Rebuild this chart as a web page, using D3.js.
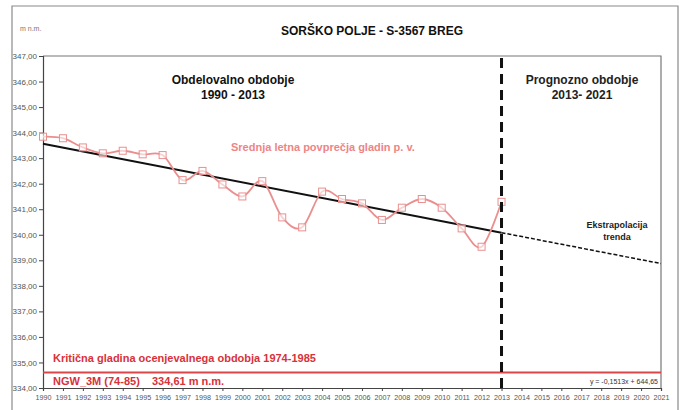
<!DOCTYPE html>
<html><head><meta charset="utf-8">
<script src="https://cdn.jsdelivr.net/npm/d3@7"></script>
<style>body{margin:0;background:#fff}svg{display:block}text{font-family:Arial,"Liberation Sans",sans-serif}</style>
</head><body>
<svg id="c" width="687" height="410"></svg>
<script>
const years = [1990,1991,1992,1993,1994,1995,1996,1997,1998,1999,2000,2001,2002,2003,2004,2005,2006,2007,2008,2009,2010,2011,2012,2013];
const levels = [343.84,343.78,343.42,343.19,343.29,343.15,343.12,342.14,342.50,341.97,341.50,342.10,340.68,340.29,341.69,341.40,341.23,340.58,341.06,341.40,341.06,340.25,339.53,341.29];
const xTicks = d3.range(1990, 2022);
const yTicks = [334,335,336,337,338,339,340,341,342,343,344,345,346,347];
const trendSlope = -0.1513, trendIntercept = 644.65;
const criticalLevel = 334.61;
const forecastStart = 2013, forecastEnd = 2021;

const svg = d3.select("#c");
const L = 43, R = 661, T = 56, B = 388;
const x = d3.scaleLinear().domain([1990, 2021]).range([L, R]);
const y = d3.scaleLinear().domain([334, 347]).range([B, T]);
const fmt = v => d3.format(".2f")(v).replace(".", ",");

// outer frame
svg.append("path").attr("d", "M12,420 V6 H678 V420").attr("fill","none").attr("stroke","#8a8a8a").attr("stroke-width",1.2);

// title
svg.append("text").attr("x", 372).attr("y", 35).attr("text-anchor","middle")
  .attr("font-size", 12).attr("font-weight","bold").attr("fill","#111").text("SORŠKO POLJE - S-3567 BREG");
svg.append("text").attr("x", 20).attr("y", 31).attr("font-size", 7).attr("fill","#777").text("m n.m.");

// plot border (top & right)
svg.append("path").attr("d", `M${L},${T} H${R} V${B}`).attr("fill","none").attr("stroke","#777").attr("stroke-width",1.2);

// axes
const yAxis = svg.append("g").attr("transform", `translate(${L},0)`)
  .call(d3.axisLeft(y).tickValues(yTicks).tickFormat(fmt).tickSize(4).tickPadding(2));
const xAxis = svg.append("g").attr("transform", `translate(0,${B})`)
  .call(d3.axisBottom(x).tickValues(xTicks).tickFormat(d3.format("d")).tickSize(3).tickPadding(4));
[yAxis, xAxis].forEach(g => {
  g.select(".domain").attr("stroke","#444").attr("stroke-width",1.2);
  g.selectAll(".tick line").attr("stroke","#444");
  g.selectAll("text").attr("fill","#555").attr("font-family","Arial, 'Liberation Sans', sans-serif");
});
yAxis.selectAll("text").attr("font-size", 8);
xAxis.selectAll("text").attr("font-size", 7.2);

// critical level line
svg.append("line").attr("x1", L).attr("x2", R).attr("y1", y(criticalLevel)).attr("y2", y(criticalLevel))
  .attr("stroke","#d9474a").attr("stroke-width",2);
svg.append("text").attr("x", 53).attr("y", 362).attr("font-size", 11).attr("font-weight","bold").attr("fill","#d8313a")
  .text("Kritična gladina ocenjevalnega obdobja 1974-1985");
svg.append("text").attr("x", 53).attr("y", 385).attr("font-size", 11).attr("font-weight","bold").attr("fill","#d8313a")
  .text("NGW_3M (74-85)");
svg.append("text").attr("x", 152).attr("y", 385).attr("font-size", 11).attr("font-weight","bold").attr("fill","#d8313a")
  .text("334,61 m n.m.");
svg.append("text").attr("x", 658).attr("y", 384).attr("text-anchor","end").attr("font-size", 7).attr("fill","#333")
  .text("y = -0,1513x + 644,65");

// trend
const trend = t => trendSlope * t + trendIntercept;
svg.append("line").attr("x1", x(1990)).attr("y1", y(trend(1990))).attr("x2", x(forecastStart)).attr("y2", y(trend(forecastStart)))
  .attr("stroke","#111").attr("stroke-width",2);
svg.append("line").attr("x1", x(forecastStart)).attr("y1", y(trend(forecastStart))).attr("x2", x(forecastEnd)).attr("y2", y(trend(forecastEnd)))
  .attr("stroke","#111").attr("stroke-width",1.5).attr("stroke-dasharray","4,2");

// series
const line = d3.line().x((d,i) => x(years[i])).y(d => y(d)).curve(d3.curveCardinal.tension(0));
svg.append("path").attr("d", line(levels)).attr("fill","none").attr("stroke","#ea8f8f").attr("stroke-width",1.8);
svg.selectAll("rect.m").data(levels).enter().append("rect").attr("class","m")
  .attr("x", (d,i) => x(years[i]) - 3.5).attr("y", d => y(d) - 3.5).attr("width", 7).attr("height", 7)
  .attr("fill","#fff").attr("fill-opacity",0.6).attr("stroke","#ea8f8f").attr("stroke-width",1);

// vertical dashed divider
svg.append("line").attr("x1", x(forecastStart)).attr("x2", x(forecastStart)).attr("y1", T + 2).attr("y2", B)
  .attr("stroke","#111").attr("stroke-width",3).attr("stroke-dasharray","10,6");

// annotations
const ann = (tx, ty, s, size, col, anchor="middle") => svg.append("text").attr("x", tx).attr("y", ty)
  .attr("text-anchor", anchor).attr("font-size", size).attr("font-weight","bold").attr("fill", col).text(s);
ann(233, 84, "Obdelovalno obdobje", 12, "#111");
ann(233, 99, "1990 - 2013", 12, "#111");
ann(582, 84, "Prognozno obdobje", 12, "#222");
ann(582, 99, "2013- 2021", 12, "#222");
ann(231, 151, "Srednja letna povprečja gladin p. v.", 11, "#ee8585", "start");
ann(617, 228, "Ekstrapolacija", 9, "#222");
ann(617, 240, "trenda", 9, "#222");
</script>
</body></html>
